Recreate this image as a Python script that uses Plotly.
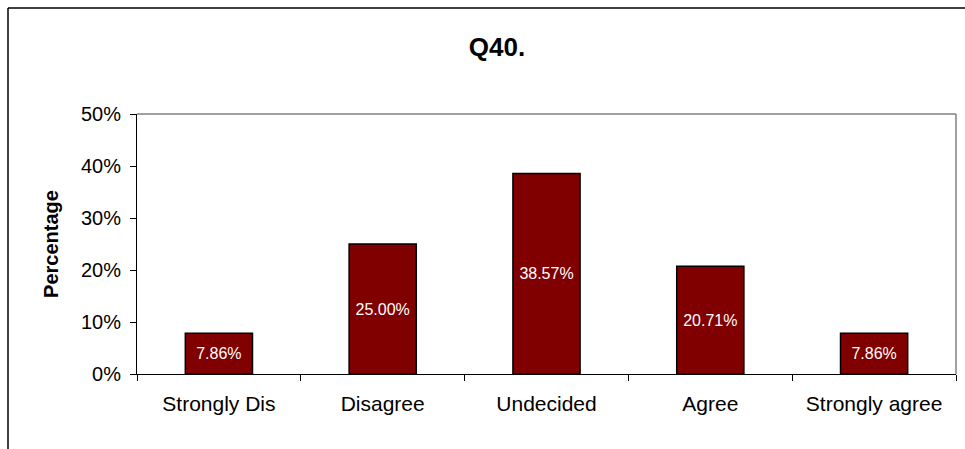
import plotly.graph_objects as go

categories = ["Strongly Dis", "Disagree", "Undecided", "Agree", "Strongly agree"]
percentages = [7.86, 25.00, 38.57, 20.71, 7.86]
y_ticks = [0, 10, 20, 30, 40, 50]

W, H = 965, 449
L, R, T, B = 137, 9, 114, 75
plot_w = W - L - R
plot_h = H - T - B


def px_x(x):
    return (x - L) / plot_w


def px_y(y):
    return (H - B - y) / plot_h


fig = go.Figure(
    go.Bar(
        x=categories,
        y=percentages,
        text=[f"{v:.2f}%" for v in percentages],
        textposition="inside",
        insidetextanchor="middle",
        textangle=0,
        textfont=dict(family="Liberation Sans, Arial", size=16, color="white"),
        marker=dict(color="#800000", line=dict(color="black", width=1.5)),
        width=0.41,
        hoverinfo="skip",
    )
)

fig.update_layout(
    width=W,
    height=H,
    margin=dict(l=L, r=R, t=T, b=B),
    paper_bgcolor="white",
    plot_bgcolor="white",
    showlegend=False,
    uniformtext=dict(minsize=16, mode="show"),
    font=dict(family="Liberation Sans, Arial", color="black"),
    title=dict(
        text="<b>Q40.</b>",
        x=px_x(497), xref="paper", xanchor="center",
        y=1 - 47 / H, yref="container", yanchor="middle",
        font=dict(size=26, color="black"),
    ),
    xaxis=dict(
        tickson="boundaries",
        ticks="outside",
        ticklen=6,
        tickcolor="black",
        tickfont=dict(size=21),
        ticklabelstandoff=11,
        showline=True,
        linecolor="black",
        linewidth=1,
        showgrid=False,
        mirror=False,
    ),
    yaxis=dict(
        range=[0, 50],
        tickvals=y_ticks,
        ticktext=[f"{v}%" for v in y_ticks],
        ticks="outside",
        ticklen=6,
        tickcolor="black",
        tickfont=dict(size=20),
        ticklabelstandoff=5,
        showline=True,
        linecolor="black",
        linewidth=1,
        showgrid=False,
        zeroline=False,
        title=dict(text="<b>Percentage</b>", font=dict(size=20), standoff=16),
    ),
    shapes=[
        # gray top and right edges of the plotting area
        dict(type="line", xref="paper", yref="paper", x0=0, x1=1, y0=1, y1=1,
             line=dict(color="#808080", width=1.5)),
        dict(type="line", xref="paper", yref="paper", x0=1, x1=1, y0=0, y1=1,
             line=dict(color="#808080", width=1.5)),
        # outer chart frame
        dict(type="line", xref="paper", yref="paper",
             x0=px_x(8), x1=px_x(W + 20), y0=px_y(8), y1=px_y(8),
             line=dict(color="black", width=1.5)),
        dict(type="line", xref="paper", yref="paper",
             x0=px_x(8), x1=px_x(8), y0=px_y(8), y1=px_y(H + 20),
             line=dict(color="black", width=1.5)),
    ],
)

fig.write_html("out.html")
